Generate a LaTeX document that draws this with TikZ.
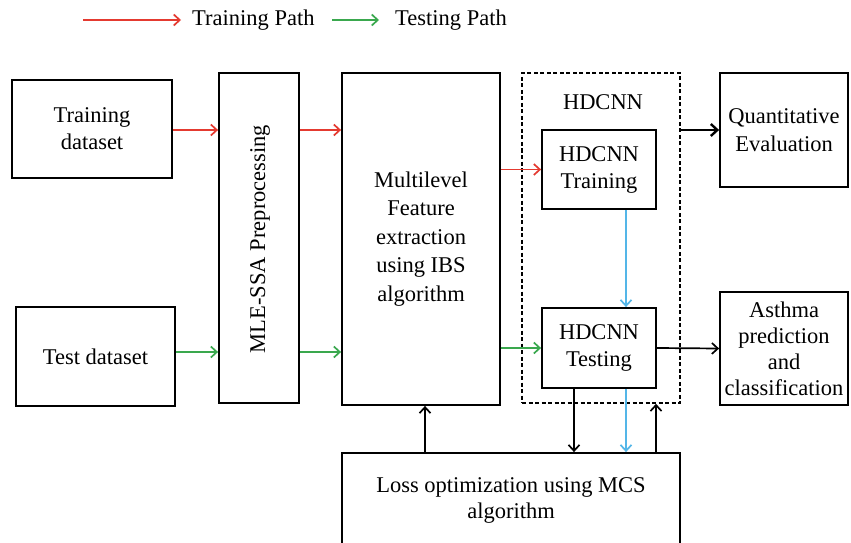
\documentclass[tikz,border=0pt]{standalone}
\usepackage{fontspec}
\setmainfont{Liberation Serif}
\usetikzlibrary{arrows.meta}
\definecolor{tred}{RGB}{228,58,48}
\definecolor{tgreen}{RGB}{58,168,78}
\definecolor{tblue}{RGB}{84,182,232}
\tikzset{
  box/.style={draw=black, line width=1.8pt, fill=white, align=center, inner sep=0pt,
    font=\fontsize{22.5}{27}\selectfont},
  dbox/.style={draw=black, line width=1.6pt, dash pattern=on 4pt off 2.5pt},
  conn/.style={line width=1.7pt, -{Straight Barb[length=6pt,width=11pt,line width=1.7pt]}},
  thickconn/.style={line width=2.6pt, -{Straight Barb[length=6.5pt,width=12pt,line width=2.4pt]}},
  lbl/.style={font=\fontsize{22.5}{27}\selectfont, inner sep=0pt, align=center}
}
\begin{document}
\begin{tikzpicture}[x=1pt,y=-1pt]
\useasboundingbox (0,0) rectangle (851,543);
\clip (0,0) rectangle (851,543);
\fill[white] (0,0) rectangle (851,543);
% legend
\coordinate (l1a) at (83,20);
\coordinate (l1b) at (181,20);
\coordinate (l2a) at (332,20);
\coordinate (l2b) at (379,20);
\draw[conn, tred] (l1a) -- (l1b);
\node[lbl, anchor=west] (ltrain) at (192,20) {Training Path};
\draw[conn, tgreen] (l2a) -- (l2b);
\node[lbl, anchor=west] (ltest) at (395,20) {Testing Path};
% boxes
\node[box, minimum width=160pt, minimum height=98pt] (train) at (92,129) {Training\\dataset};
\node[box, minimum width=159pt, minimum height=99pt] (test) at (95.5,356.5) {Test dataset};
\node[box, minimum width=80pt, minimum height=330pt] (mle) at (259,238) {};
\node[lbl, rotate=90] (mlelbl) at (260,239) {MLE-SSA Preprocessing};
\node[box, minimum width=158pt, minimum height=332pt, font=\fontsize{22.5}{28.5}\selectfont] (feat) at (421,239) {Multilevel\\Feature\\extraction\\using IBS\\algorithm};
\node[dbox, minimum width=158pt, minimum height=330pt, inner sep=0pt] (hd) at (601,238) {};
\node[lbl] (hdlbl) at (603,102) {HDCNN};
\node[box, minimum width=114pt, minimum height=79pt] (hdtrain) at (599,169.5) {HDCNN\\Training};
\node[box, minimum width=114pt, minimum height=80pt] (hdtest) at (599,348) {HDCNN\\Testing};
\node[box, minimum width=128pt, minimum height=114pt, font=\fontsize{22.5}{28}\selectfont] (quant) at (784,130) {Quantitative\\Evaluation};
\node[box, minimum width=128pt, minimum height=113pt, font=\fontsize{22.5}{26}\selectfont] (asthma) at (784,348.5) {Asthma\\prediction\\and\\classification};
\node[box, minimum width=338pt, minimum height=94pt, font=\fontsize{22.5}{26}\selectfont] (loss) at (511,500) {Loss optimization using MCS\\algorithm};
% helper coordinates
\coordinate (ry) at (0,130);
\coordinate (gy) at (0,352);
\coordinate (bx) at (626,0);
\coordinate (kx1) at (574,0);
\coordinate (kx2) at (656,0);
\coordinate (kx3) at (425,0);
% training path
\draw[conn, tred] (train.east |- ry) -- (mle.west |- ry);
\draw[conn, tred] (mle.east |- ry) -- (feat.west |- ry);
\draw[conn, tred] (feat.east |- hdtrain.west) -- (hdtrain.west);
% testing path
\draw[conn, tgreen] (test.east |- gy) -- (mle.west |- gy);
\draw[conn, tgreen] (mle.east |- gy) -- (feat.west |- gy);
\draw[conn, tgreen] (feat.east |- hdtest.west) -- (hdtest.west);
% outputs
\draw[thickconn] (hd.east |- quant.west) -- (quant.west);
\draw[conn] (hdtest.east) -- (asthma.west);
% blue
\draw[conn, tblue] (hdtrain.south -| bx) -- (hdtest.north -| bx);
\draw[conn, tblue] (hdtest.south -| bx) -- (loss.north -| bx);
% loss loops
\draw[conn] (hdtest.south -| kx1) -- (loss.north -| kx1);
\draw[conn] (loss.north -| kx2) -- (hd.south -| kx2);
\draw[conn] (loss.north -| kx3) -- (feat.south -| kx3);
\end{tikzpicture}
\end{document}
